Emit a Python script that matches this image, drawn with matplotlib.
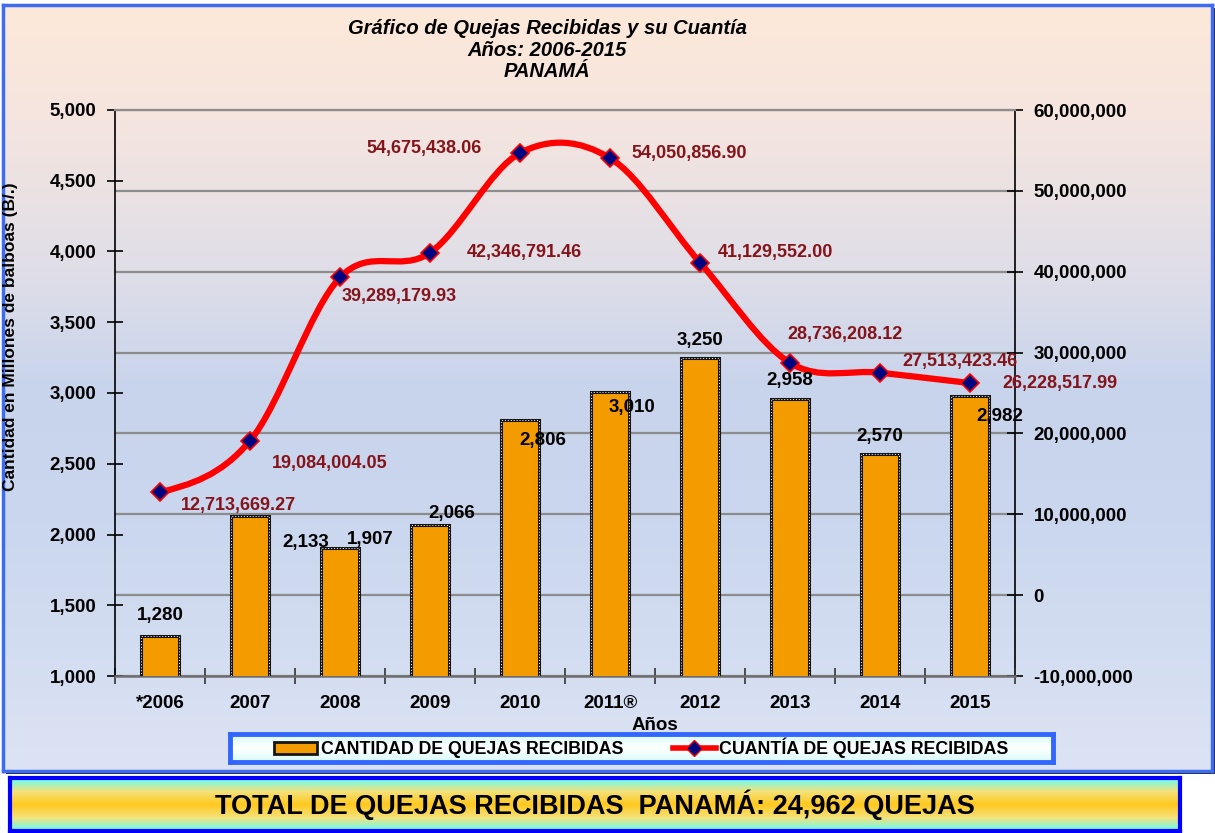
import numpy as np
import matplotlib
matplotlib.use('Agg')
import matplotlib.pyplot as plt
from matplotlib import font_manager
from matplotlib.colors import LinearSegmentedColormap
from matplotlib.path import Path
from matplotlib.patches import PathPatch, Patch, Rectangle
from matplotlib.lines import Line2D
from matplotlib.ticker import FuncFormatter

# datos del grafico
anios = ['*2006', '2007', '2008', '2009', '2010', '2011®', '2012', '2013', '2014', '2015']
quejas = [1280, 2133, 1907, 2066, 2806, 3010, 3250, 2958, 2570, 2982]
cuantia = [12713669.27, 19084004.05, 39289179.93, 42346791.46, 54675438.06,
           54050856.90, 41129552.00, 28736208.12, 27513423.46, 26228517.99]

# desplazamiento de etiquetas (pixeles) como en el original de Excel
off_quejas = [(0, 21), (56, -27), (30, 8), (22, 12), (23, -20),
              (22, -16), (0, 17), (0, 18), (0, 17), (30, -21)]
off_cuantia = [(78, -13), (80, -23), (59, -19), (94, 0), (-96, 5),
               (79, 5), (75, 10), (55, 28), (80, 11), (90, 0)]

W, H = 1215, 833
plt.rcParams['font.family'] = ['Liberation Sans', 'DejaVu Sans']
nombres = {f.name for f in font_manager.fontManager.ttflist}
narrow = 'Liberation Sans Narrow' in nombres

fig = plt.figure(figsize=(W / 100, H / 100), dpi=100)
fig.patch.set_facecolor('white')

# fondo del area del grafico (degradado)
sombra = Rectangle((6 / W, 1 - 774 / H), 1209 / W, 766 / H, transform=fig.transFigure,
                   facecolor='#222222', edgecolor='none', zorder=-3)
fig.patches.append(sombra)
bg = fig.add_axes([3 / W, 1 - 771 / H, 1209 / W, 766 / H], zorder=-2)
cmap_bg = LinearSegmentedColormap.from_list('bg', [(0, '#FDE9D9'), (0.15, '#F5E5DF'), (0.35, '#DFDEE8'),
                                                   (0.5, '#C8D4EC'), (0.68, '#CAD7EE'), (1, '#DCE3F4')])
bg.imshow(np.linspace(0, 1, 256).reshape(-1, 1), cmap=cmap_bg, aspect='auto', extent=[0, 1, 0, 1])
bg.set_xticks([]); bg.set_yticks([])
for s in bg.spines.values():
    s.set_color('#3D6BF2'); s.set_linewidth(2.5)

# ejes principales
ax = fig.add_axes([115 / W, 1 - 676 / H, 900 / W, 566 / H])
ax2 = ax.twinx()
ax.set_zorder(3); ax.patch.set_visible(False)
ax2.set_zorder(2); ax2.patch.set_visible(False)

x = np.arange(len(anios))
ax.bar(x, quejas, width=0.42, color='#F49B00', edgecolor='#151515', linewidth=2.2, zorder=3)
ax.bar(x, quejas, width=0.42, fill=False, edgecolor='white', linewidth=0.7, linestyle=(0, (1, 2)), zorder=4)

for i, v in enumerate(quejas):
    ax.annotate(f'{v:,}', xy=(x[i], v), xytext=off_quejas[i], textcoords='offset pixels',
                ha='center', va='center', fontsize=13.5, fontweight='bold', color='black', zorder=6)

ax.set_xlim(-0.5, len(anios) - 0.5)
ax.set_ylim(1000, 5000)
ax.set_yticks(np.arange(1000, 5001, 500))
ax.yaxis.set_major_formatter(FuncFormatter(lambda v, _: f'{v:,.0f}'))
ax.set_xticks(np.arange(-0.5, len(anios), 1))
ax.set_xticklabels([])
ax.set_xticks(x, minor=True)
ax.set_xticklabels(anios, minor=True)
ax.tick_params(axis='x', which='major', direction='inout', length=12, width=1.2, color='#333333')
ax.tick_params(axis='x', which='minor', length=0, pad=14, labelsize=13.5)
ax.tick_params(axis='y', direction='inout', length=11, width=1.2, color='black', pad=8, labelsize=13.5)
for lab in ax.get_yticklabels() + ax.get_xticklabels(minor=True):
    lab.set_fontweight('bold')

ax.spines['left'].set_color('black'); ax.spines['left'].set_linewidth(1.2)
ax.spines['right'].set_visible(False)
ax.spines['bottom'].set_color('#6E6E6E'); ax.spines['bottom'].set_linewidth(1.8)
ax.spines['top'].set_color('#8C8C8C'); ax.spines['top'].set_linewidth(1.6)

ax.set_ylabel('Cantidad en Millones de balboas (B/.)', fontsize=12.5, fontweight='bold')
ax.yaxis.set_label_coords(-0.108, 0.6)
ax.set_xlabel('Años', fontsize=13.5, fontweight='bold')
ax.xaxis.set_label_coords(0.6, -0.072)

# linea suavizada (curva bezier tipo Excel)
def curva_suave(xs, ys):
    n = len(xs)
    t = np.zeros(n)
    for i in range(1, n - 1):
        t[i] = (ys[i + 1] - ys[i - 1]) / 2
    t[0] = (3 * (ys[1] - ys[0]) - t[1]) / 2
    t[-1] = (3 * (ys[-1] - ys[-2]) - t[-2]) / 2
    verts = [(xs[0], ys[0])]
    codes = [Path.MOVETO]
    for i in range(n - 1):
        verts += [(xs[i] + 1 / 3, ys[i] + t[i] / 3),
                  (xs[i + 1] - 1 / 3, ys[i + 1] - t[i + 1] / 3),
                  (xs[i + 1], ys[i + 1])]
        codes += [Path.CURVE4] * 3
    return Path(verts, codes)

ax2.add_patch(PathPatch(curva_suave(x, np.array(cuantia)), facecolor='none', edgecolor='#FF0000',
                        linewidth=4.5, capstyle='round', joinstyle='round', zorder=3))
ax2.plot(x, cuantia, linestyle='none', marker='D', markersize=9, markerfacecolor='#000080',
         markeredgecolor='#FF0000', markeredgewidth=1.2, zorder=4)
for i, v in enumerate(cuantia):
    ax2.annotate(f'{v:,.2f}', xy=(x[i], v), xytext=off_cuantia[i], textcoords='offset pixels',
                 ha='center', va='center', fontsize=13, fontweight='bold', color='#84141A', zorder=6)

ax2.set_ylim(-10e6, 60e6)
ax2.set_yticks(np.arange(-10e6, 60e6 + 1, 10e6))
ax2.yaxis.set_major_formatter(FuncFormatter(lambda v, _: f'{v:,.0f}'))
ax2.tick_params(axis='y', direction='inout', length=11, width=1.2, color='black', pad=8, labelsize=13.5)
for lab in ax2.get_yticklabels():
    lab.set_fontweight('bold')
ax2.yaxis.grid(True, color='#8C8C8C', linewidth=1.6)
ax2.spines['right'].set_color('black'); ax2.spines['right'].set_linewidth(1.2)
for s in ['left', 'top', 'bottom']:
    ax2.spines[s].set_visible(False)

# titulo
fig.text(547 / W, 1 - 50 / H, 'Gráfico de Quejas Recibidas y su Cuantía\nAños: 2006-2015\nPANAMÁ',
         ha='center', va='center', fontsize=14.5, fontweight='bold', fontstyle='italic', linespacing=1.15)

# leyenda
lax = fig.add_axes([230 / W, 1 - 762 / H, 823 / W, 28 / H], zorder=4)
cmap_leg = LinearSegmentedColormap.from_list('leg', ['#D8FAFA', '#FFFFFF', '#D8FAFA'])
lax.imshow(np.linspace(0, 1, 64).reshape(-1, 1), cmap=cmap_leg, aspect='auto', extent=[0, 1, 0, 1])
lax.set_xticks([]); lax.set_yticks([])
for s in lax.spines.values():
    s.set_color('#3366FF'); s.set_linewidth(3.5)
manejadores = [Patch(facecolor='#F49B00', edgecolor='#151515', linewidth=2),
               Line2D([], [], color='#FF0000', linewidth=4, marker='D', markersize=8,
                      markerfacecolor='#000080', markeredgecolor='#FF0000')]
lax.legend(manejadores, ['CANTIDAD DE QUEJAS RECIBIDAS', 'CUANTÍA DE QUEJAS RECIBIDAS'],
           loc='center', ncol=2, frameon=False, handlelength=2.4, handleheight=0.6,
           handletextpad=0.2, columnspacing=2.8, prop={'weight': 'bold', 'size': 12.8})

# recuadro del total
bax = fig.add_axes([10 / W, 1 - 831 / H, 1170 / W, 53 / H], zorder=4)
cmap_tot = LinearSegmentedColormap.from_list('tot', ['#5FFFFF', '#F5E27A', '#FFC81E', '#F5E27A', '#5FFFFF'])
bax.imshow(np.linspace(0, 1, 128).reshape(-1, 1), cmap=cmap_tot, aspect='auto', extent=[0, 1, 0, 1])
bax.set_xticks([]); bax.set_yticks([])
for s in bax.spines.values():
    s.set_color('#0000FF'); s.set_linewidth(3)
total = sum(quejas)
if narrow:
    bax.text(0.5, 0.5, f'TOTAL DE QUEJAS RECIBIDAS  PANAMÁ: {total:,} QUEJAS', transform=bax.transAxes,
             ha='center', va='center', fontsize=23, fontweight='bold', family='Liberation Sans Narrow')
else:
    bax.text(0.5, 0.5, f'TOTAL DE QUEJAS RECIBIDAS  PANAMÁ: {total:,} QUEJAS', transform=bax.transAxes,
             ha='center', va='center', fontsize=19.5, fontweight='bold')

fig.savefig('out.png', dpi=100)
